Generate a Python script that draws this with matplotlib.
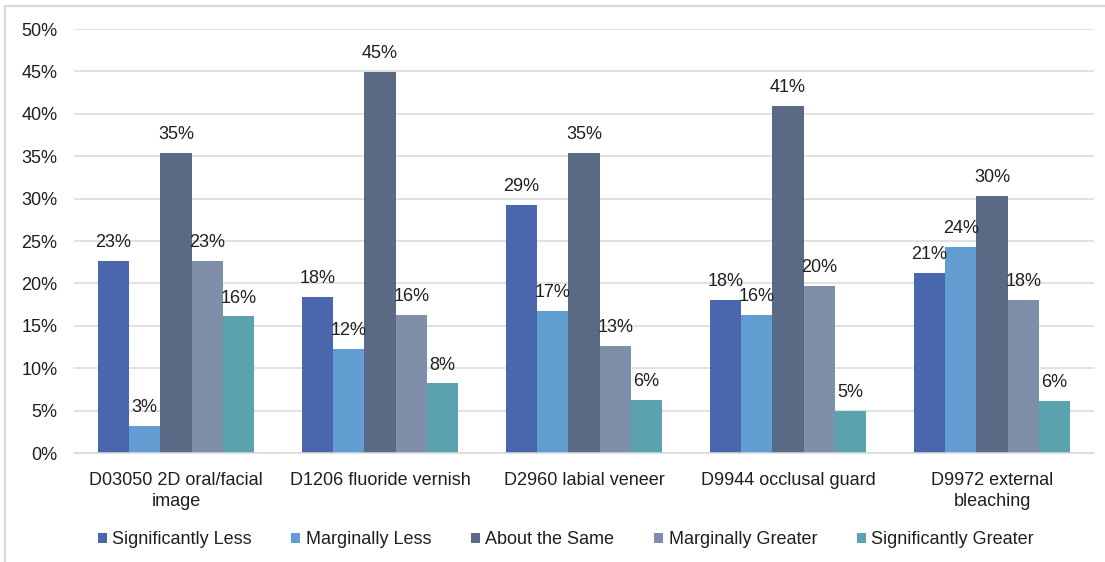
import matplotlib
matplotlib.use("Agg")
import matplotlib.pyplot as plt
from matplotlib.patches import Rectangle
import numpy as np

categories = ["D03050 2D oral/facial\nimage", "D1206 fluoride vernish", "D2960 labial veneer",
              "D9944 occlusal guard", "D9972 external\nbleaching"]
series_names = ["Significantly Less", "Marginally Less", "About the Same",
                "Marginally Greater", "Significantly Greater"]
sig_less = [22.7, 18.4, 29.2, 18.0, 21.2]
marg_less = [3.2, 12.3, 16.7, 16.3, 24.3]
about_same = [35.4, 44.9, 35.4, 40.9, 30.3]
marg_greater = [22.7, 16.3, 12.6, 19.7, 18.1]
sig_greater = [16.1, 8.2, 6.3, 5.0, 6.1]
colors = ["#4A66AC", "#629DD1", "#5A6A85", "#7F8FA9", "#5AA2AE"]
yticks = [0, 5, 10, 15, 20, 25, 30, 35, 40, 45, 50]

series = [sig_less, marg_less, about_same, marg_greater, sig_greater]

plt.rcParams['font.family'] = ['Liberation Sans', 'DejaVu Sans']
txt = '#1f1f1f'
fs = 13

fig = plt.figure(figsize=(11.05, 5.62), dpi=100)
ax = fig.add_axes([74/1105, 1-453/562, (1094-74)/1105, (453-29)/562])

x = np.arange(len(categories))
w = 0.153
for j, (vals, name, c) in enumerate(zip(series, series_names, colors)):
    pos = x + (j - 2) * w
    ax.bar(pos, np.array(vals) / 100, width=w, color=c, label=name, zorder=2)
    for p, v in zip(pos, vals):
        ax.annotate(f"{v:.0f}%", xy=(p, v / 100), xytext=(0, 10), textcoords='offset points',
                    ha='center', va='baseline', fontsize=fs, color=txt)

ax.set_xlim(-0.5, len(categories) - 0.5)
ax.set_ylim(0, 0.5)
ax.set_yticks([t / 100 for t in yticks])
ax.set_yticklabels([f"{t}%" for t in yticks])
ax.set_xticks(x)
ax.set_xticklabels(categories, linespacing=1.3)
ax.tick_params(axis='both', length=0, labelsize=fs, labelcolor=txt)
ax.tick_params(axis='y', pad=12)
ax.tick_params(axis='x', pad=14)
ax.grid(axis='y', color='#d9d9d9', linewidth=1.1, zorder=0)
ax.set_axisbelow(True)
for s in ['top', 'right', 'left']:
    ax.spines[s].set_visible(False)
ax.spines['bottom'].set_color('#d9d9d9')
ax.spines['bottom'].set_linewidth(1.1)

fig.legend(loc='center', bbox_to_anchor=(0.512, 1 - 540/562), ncol=5, frameon=False,
           fontsize=fs, handlelength=0.5, handleheight=0.5, handletextpad=0.3,
           columnspacing=2.2, labelcolor=txt)

fig.patches.append(Rectangle((5/1105, -0.05), 1.2, (1 - 6/562) + 0.05, transform=fig.transFigure,
                             fill=False, edgecolor='#d9d9d9', linewidth=1.5))

fig.savefig("out.png", dpi=100)
